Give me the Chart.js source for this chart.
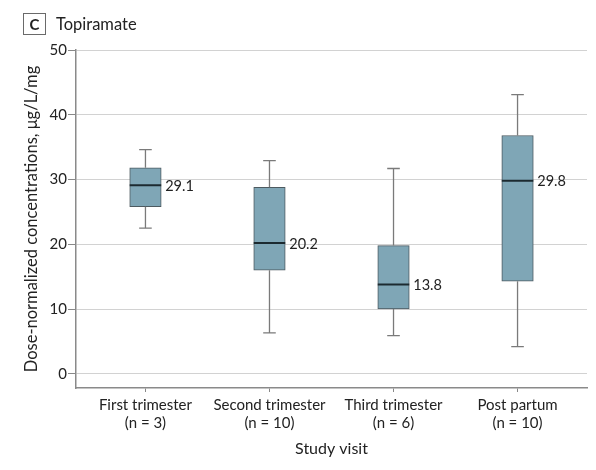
<!DOCTYPE html>
<html>
<head>
<meta charset="utf-8">
<script src="https://cdn.jsdelivr.net/npm/chart.js@4.4.0/dist/chart.umd.min.js"></script>
<style>
  html, body { margin: 0; padding: 0; background: #fff; }
  #wrap { position: relative; width: 596px; height: 470px; }
  #chart { position: absolute; left: 0; top: 0; }
  #panel { position: absolute; left: 23px; top: 13px; width: 21px; height: 20px; border: 1px solid #6a6a6a;
    font: bold 15px Lato, sans-serif; color: #222; text-align: center; line-height: 20px; }
  #title { position: absolute; left: 56px; top: 13px; font: 16.5px Lato, sans-serif; color: #222; line-height: 22px; }
</style>
</head>
<body>
<div id="wrap">
  <canvas id="chart" width="596" height="470"></canvas>
  <div id="panel">C</div>
  <div id="title">Topiramate</div>
</div>
<script>
const categories = [["First trimester", "(n = 3)"], ["Second trimester", "(n = 10)"], ["Third trimester", "(n = 6)"], ["Post partum", "(n = 10)"]];
const positions = [1, 2, 3, 4];
const whiskerMin = [22.5, 6.3, 5.9, 4.2];
const q1 = [25.8, 16.0, 10.0, 14.3];
const medians = [29.1, 20.2, 13.8, 29.8];
const q3 = [31.8, 28.8, 19.8, 36.8];
const whiskerMax = [34.6, 32.9, 31.7, 43.1];
const yTicks = [0, 10, 20, 30, 40, 50];

const FONT = "Lato, sans-serif";

const boxPlugin = {
  id: 'boxExtras',
  afterDatasetsDraw(chart) {
    const ctx = chart.ctx;
    const xs = chart.scales.x, ys = chart.scales.y;
    const meta = chart.getDatasetMeta(0);
    ctx.save();
    positions.forEach((p, i) => {
      const cx = xs.getPixelForValue(p);
      const bar = meta.data[i];
      const half = bar.width / 2;
      const capHalf = 6.3;
      const yMin = ys.getPixelForValue(whiskerMin[i]);
      const yMax = ys.getPixelForValue(whiskerMax[i]);
      const yQ1 = ys.getPixelForValue(q1[i]);
      const yQ3 = ys.getPixelForValue(q3[i]);
      const yMed = ys.getPixelForValue(medians[i]);
      ctx.strokeStyle = '#7a7a7a';
      ctx.lineWidth = 1.3;
      ctx.beginPath();
      ctx.moveTo(cx, yQ3); ctx.lineTo(cx, yMax);
      ctx.moveTo(cx - capHalf, yMax); ctx.lineTo(cx + capHalf, yMax);
      ctx.moveTo(cx, yQ1); ctx.lineTo(cx, yMin);
      ctx.moveTo(cx - capHalf, yMin); ctx.lineTo(cx + capHalf, yMin);
      ctx.stroke();
      ctx.strokeStyle = '#1c2a30';
      ctx.lineWidth = 2;
      ctx.beginPath();
      ctx.moveTo(cx - half, yMed); ctx.lineTo(cx + half, yMed);
      ctx.stroke();
      ctx.fillStyle = '#222';
      ctx.font = '14.5px ' + FONT;
      ctx.textAlign = 'left';
      ctx.textBaseline = 'middle';
      ctx.fillText(medians[i].toFixed(1), cx + half + 4, yMed + 1);
    });
    ctx.restore();
  }
};

new Chart(document.getElementById('chart'), {
  type: 'bar',
  data: {
    datasets: [{
      data: positions.map((p, i) => ({ x: p, y: [q1[i], q3[i]] })),
      backgroundColor: '#7fa6b6',
      borderColor: '#4d5a60',
      borderWidth: 1,
      borderSkipped: false,
      barThickness: 31.5
    }]
  },
  options: {
    responsive: false,
    animation: false,
    devicePixelRatio: 1,
    layout: { padding: { left: 0, top: 50, right: 9, bottom: 12 } },
    plugins: { legend: { display: false }, tooltip: { enabled: false } },
    scales: {
      x: {
        type: 'linear',
        offset: false,
        min: 0.44, max: 4.56,
        afterBuildTicks: s => { s.ticks = positions.map(v => ({ value: v })); },
        afterFit: s => { s.height = 70; },
        ticks: {
          callback: (v) => categories[positions.indexOf(v)] || '',
          font: { family: FONT, size: 15 }, color: '#222', padding: 4, maxRotation: 0, autoSkip: false
        },
        grid: { offset: false, drawOnChartArea: false, drawTicks: true, tickLength: 4, tickColor: '#888', color: '#888' },
        border: { color: '#8a8a8a', width: 1.5 },
        title: { display: true, text: 'Study visit', font: { family: FONT, size: 16 }, color: '#222', padding: { top: 4, bottom: 0 } }
      },
      y: {
        min: -2.2, max: 50,
        afterBuildTicks: s => { s.ticks = yTicks.map(v => ({ value: v })); },
        afterFit: s => { s.width = 76; },
        ticks: { font: { family: FONT, size: 15 }, color: '#222', padding: 1 },
        grid: { color: '#d2d2d2', lineWidth: 1, tickLength: 8, tickColor: '#888' },
        border: { color: '#8a8a8a', width: 1.5 },
        title: { display: true, text: 'Dose-normalized concentrations, μg/L/mg', font: { family: FONT, size: 16.5 }, color: '#222', padding: { top: 22, bottom: 0 } }
      }
    }
  },
  plugins: [boxPlugin]
});
</script>
</body>
</html>
